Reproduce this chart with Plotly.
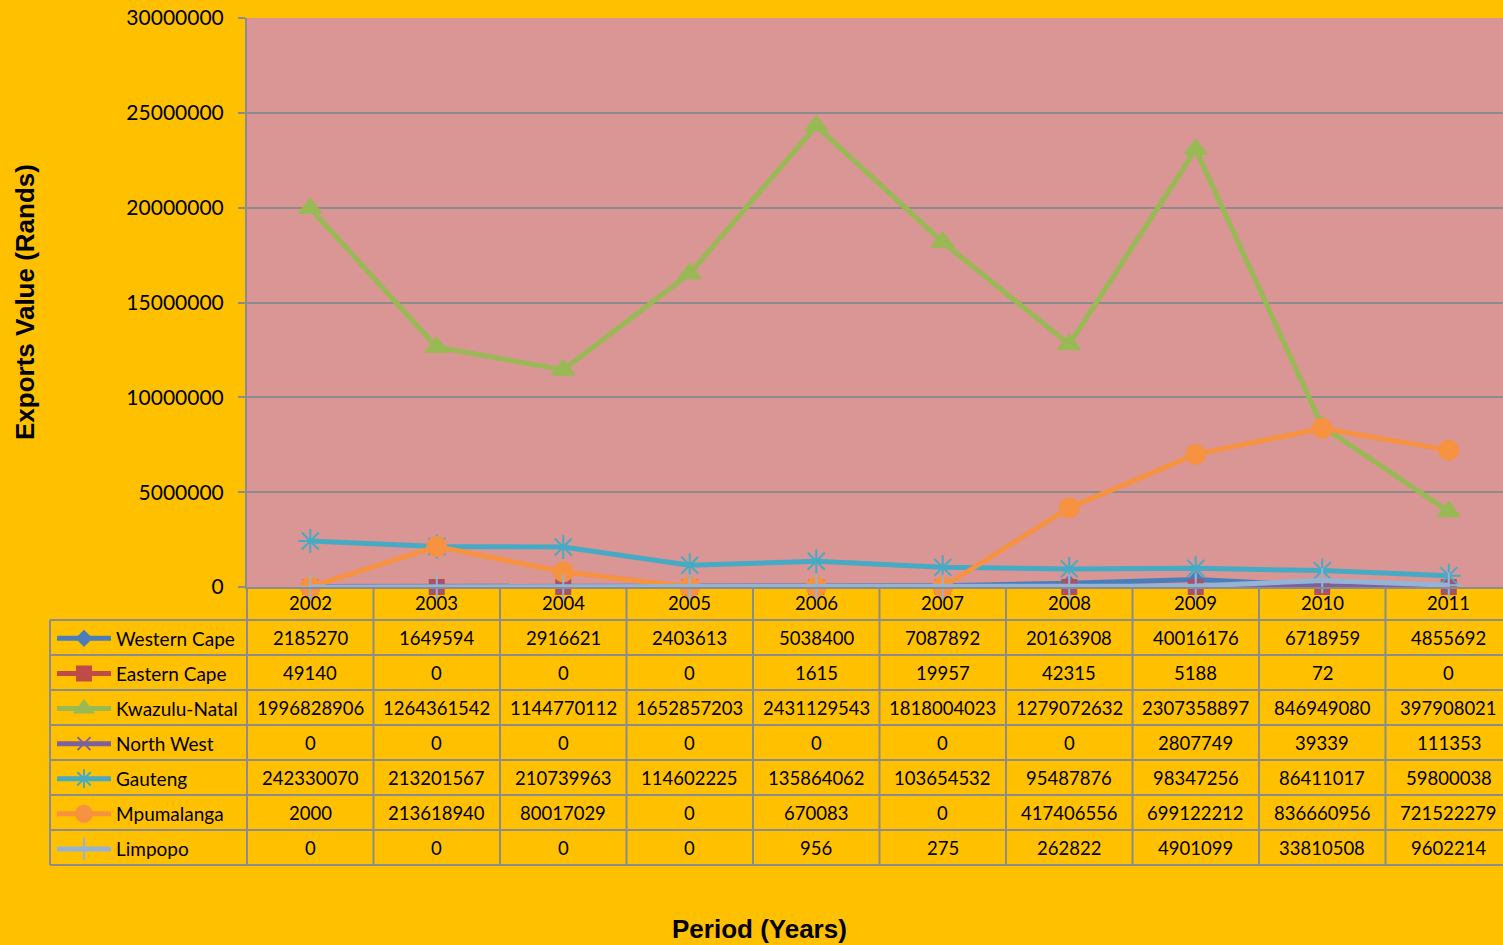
import plotly.graph_objects as go

years = ['2002', '2003', '2004', '2005', '2006', '2007', '2008', '2009', '2010', '2011']
series_names = ['Western Cape', 'Eastern Cape', 'Kwazulu-Natal', 'North West', 'Gauteng', 'Mpumalanga', 'Limpopo']
western_cape = [2185270, 1649594, 2916621, 2403613, 5038400, 7087892, 20163908, 40016176, 6718959, 4855692]
eastern_cape = [49140, 0, 0, 0, 1615, 19957, 42315, 5188, 72, 0]
kwazulu_natal = [1996828906, 1264361542, 1144770112, 1652857203, 2431129543, 1818004023, 1279072632, 2307358897, 846949080, 397908021]
north_west = [0, 0, 0, 0, 0, 0, 0, 2807749, 39339, 111353]
gauteng = [242330070, 213201567, 210739963, 114602225, 135864062, 103654532, 95487876, 98347256, 86411017, 59800038]
mpumalanga = [2000, 213618940, 80017029, 0, 670083, 0, 417406556, 699122212, 836660956, 721522279]
limpopo = [0, 0, 0, 0, 956, 275, 262822, 4901099, 33810508, 9602214]
chart_divisor = 100  # plotted values are table values / 100

all_series = [western_cape, eastern_cape, kwazulu_natal, north_west, gauteng, mpumalanga, limpopo]
colors = ['#4A7EBB', '#BE4B48', '#98B954', '#7D60A0', '#46AAC5', '#F69240', '#95B3D7']
symbols = ['diamond', 'square', 'triangle-up', 'x-thin-open', 'asterisk-open', 'circle', 'cross-thin-open']
msizes = [11, 14, 19, 13, 20, 19, 18]

W, H = 1503, 945
L, R_EDGE, T, B = 247, 1503, 18, 587
XMIN, XMAX = -0.5, -0.5 + (R_EDGE - L) / 126.5

def px(xp):
    return (xp - L) / (R_EDGE - L)

def py(yp):
    return (B - yp) / (B - T)

def xcat(i):
    return (i - XMIN) / (XMAX - XMIN)

fig = go.Figure()
for name, vals, c, s, ms in zip(series_names, all_series, colors, symbols, msizes):
    fig.add_trace(go.Scatter(
        x=list(range(len(years))), y=[v / chart_divisor for v in vals],
        mode='lines+markers', name=name, legendgroup=name,
        line=dict(color=c, width=5),
        marker=dict(symbol=s, size=ms, color=c, line=dict(color=c, width=2)),
        cliponaxis=False,
    ))

FONT = 'Lato'
GRID = '#8C8C8C'
shapes = []
anns = []
row_lines = [620, 655, 690, 725, 760, 795, 830, 865]
for yl in row_lines:
    shapes.append(dict(type='line', xref='paper', yref='paper', x0=px(50), x1=1.02, y0=py(yl), y1=py(yl),
                       line=dict(color=GRID, width=2)))
shapes.append(dict(type='line', xref='paper', yref='paper', x0=px(50), x1=px(50), y0=py(620), y1=py(865),
                   line=dict(color=GRID, width=2)))
for i in range(len(years) + 1):
    xb = xcat(i - 0.5)
    if xb > 1.001:
        continue
    shapes.append(dict(type='line', xref='paper', yref='paper', x0=xb, x1=xb, y0=py(587), y1=py(865),
                       line=dict(color=GRID, width=2)))

for i, yr in enumerate(years):
    anns.append(dict(xref='paper', yref='paper', x=xcat(i), y=py(603), text=yr, showarrow=False,
                     xanchor='center', yanchor='middle', font=dict(family=FONT, size=18.5, color='black')))
row_centers = [637.5, 672.5, 707.5, 742.5, 777.5, 812.5, 847.5]
for r, vals in enumerate(all_series):
    for i, v in enumerate(vals):
        anns.append(dict(xref='paper', yref='paper', x=xcat(i), y=py(row_centers[r]), text=str(v),
                         showarrow=False, xanchor='center', yanchor='middle',
                         font=dict(family=FONT, size=18.5, color='black')))

anns.append(dict(xref='paper', yref='paper', x=px(25), y=py(302), text='<b>Exports Value (Rands)</b>',
                 textangle=-90, showarrow=False, xanchor='center', yanchor='middle',
                 font=dict(family='Liberation Sans', size=26, color='black')))
anns.append(dict(xref='paper', yref='paper', x=px(759.5), y=py(929), text='<b>Period (Years)</b>',
                 showarrow=False, xanchor='center', yanchor='middle',
                 font=dict(family='Liberation Sans', size=26, color='black')))

fig.update_layout(
    width=W, height=H,
    margin=dict(l=L, r=W - R_EDGE, t=T, b=H - B, pad=0),
    paper_bgcolor='#FFC000', plot_bgcolor='#D99694',
    shapes=shapes, annotations=anns,
    showlegend=True,
    legend=dict(x=px(52), y=py(619.5), xanchor='left', yanchor='top', bgcolor='rgba(0,0,0,0)',
                borderwidth=0, font=dict(family=FONT, size=19, color='black'),
                itemwidth=54, tracegroupgap=7.4, itemclick=False),
    xaxis=dict(range=[XMIN, XMAX], showticklabels=False, showgrid=False, zeroline=False,
               showline=True, linecolor=GRID, linewidth=2, ticks=''),
    yaxis=dict(range=[0, 30000000], dtick=5000000, tickformat='d', showgrid=True, gridcolor=GRID,
               gridwidth=1.5, zeroline=False, showline=True, linecolor=GRID, linewidth=2,
               ticks='outside', ticklen=7, tickcolor=GRID, tickwidth=1.5, ticklabelstandoff=10,
               tickfont=dict(family=FONT, size=21, color='black')),
)

fig.write_html('out.html', config={'displayModeBar': False},
               post_script="document.body.style.margin='0';document.body.style.overflow='hidden';")
